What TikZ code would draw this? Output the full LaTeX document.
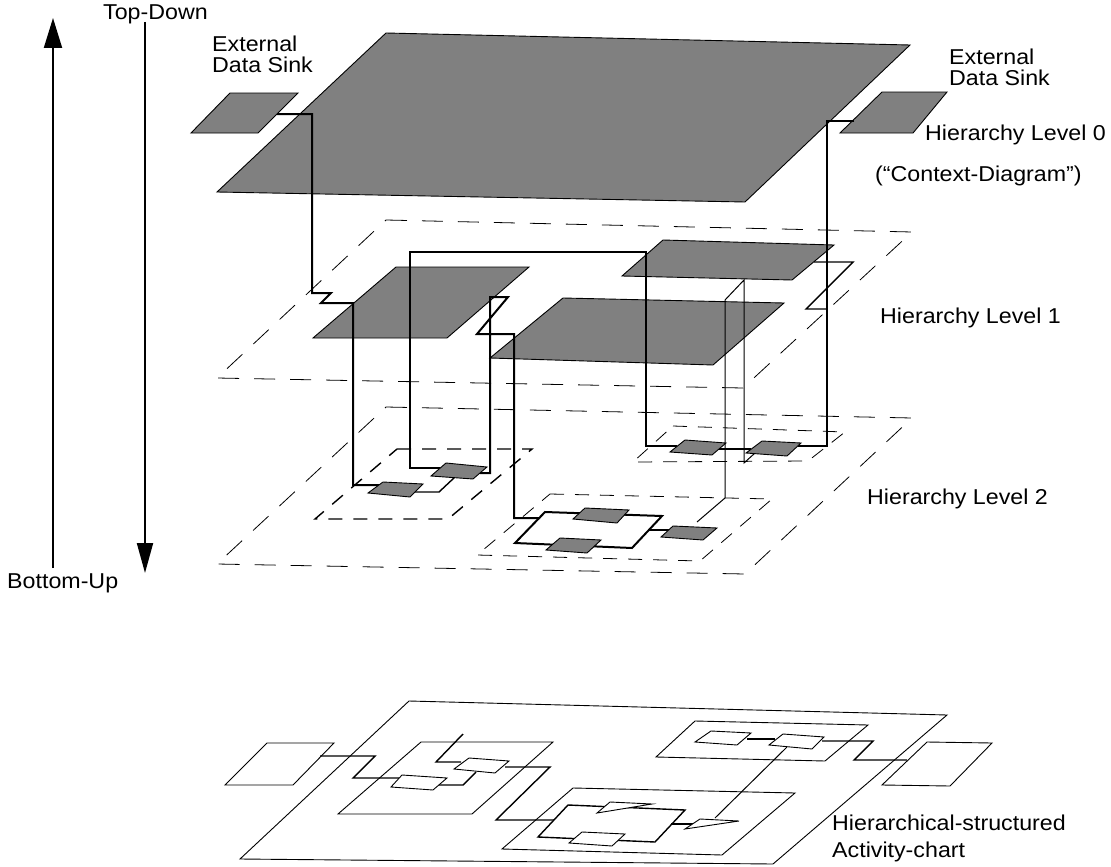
\documentclass[tikz,border=0pt]{standalone}
\usepackage{fontspec}
\setmainfont{Liberation Sans}[FakeStretch=1.08]
\usetikzlibrary{arrows.meta}
\definecolor{boxgray}{RGB}{128,128,128}
\begin{document}
\begin{tikzpicture}[x=1pt,y=-1pt,
  graybox/.style={draw=black,line width=0.9pt,fill=boxgray,line join=miter},
  wbox/.style={draw=black,line width=0.9pt,fill=white},
  thinplane/.style={draw=black,line width=0.9pt},
  dplane/.style={draw=black,line width=0.8pt,dash pattern=on 21pt off 15pt},
  dsub/.style={draw=black,line width=0.8pt,dash pattern=on 14pt off 11pt},
  conn/.style={draw=black,line width=2pt},
  midconn/.style={draw=black,line width=1.4pt},
  thinconn/.style={draw=black,line width=1pt},
  lbl/.style={font=\fontsize{21.5}{25}\selectfont,anchor=base west,inner sep=0pt},
  uparrow/.style={line width=2pt,-{Triangle[length=30pt,width=18pt]}},
  downarrow/.style={line width=2pt,-{Triangle[length=30pt,width=16pt]}}]
\useasboundingbox (0,0) rectangle (1111,867);

% ---------- Level 2 ----------
\draw[dplane] (386,407) -- (912,418) -- (745,574) -- (217,564) -- cycle;
\draw[dsub,line width=1.4pt] (397,449) -- (532,449) -- (448,519) -- (315,519) -- cycle;
\draw[dsub] (550,494) -- (772,499) -- (700,561) -- (477,555) -- cycle;
\draw[dsub] (673,426) -- (845,432) -- (808,461) -- (633,462) -- cycle;

% ---------- Level 1 ----------
\draw[dplane] (386,220) -- (912,232) -- (743,388) -- (217,378) -- cycle;
\draw[graybox] (396,267) -- (529,267) -- (447,338) -- (313,338) -- cycle;
\draw[graybox] (663,240) -- (834,245) -- (792,280) -- (622,276) -- cycle;
\draw[graybox] (563,298) -- (784,303) -- (713,365) -- (490,358) -- cycle;

% ---------- Level 0 ----------
\draw[graybox] (386,33) -- (910,45) -- (745,202) -- (217,192) -- cycle;
\draw[graybox] (230,93) -- (298,93) -- (258,133) -- (191,133) -- cycle;
\draw[graybox] (882,92) -- (947,92) -- (913,133) -- (840,133) -- cycle;

% ---------- connectors (on top) ----------
\draw[conn] (277,114) -- (312,114) -- (312,293) -- (331,293) -- (321,303) -- (353,303) -- (353,485) -- (379,485);
\draw[conn] (440,468) -- (410,468) -- (410,252) -- (646,252) -- (646,446) -- (677,446);
\draw[conn] (480,473) -- (490,473) -- (490,297) -- (508,297) -- (477,334) -- (514,334) -- (514,518) -- (540,518);
\draw[midconn] (415,492) -- (439,492) -- (455,477);
\draw[conn] (854,121) -- (827,121) -- (827,446) -- (798,446);
\draw[midconn] (814,262) -- (853,262) -- (806,309) -- (827,309);
\draw[conn] (545,512) -- (662,516) -- (632,548) -- (515,543) -- cycle;
\draw[conn] (648,530) -- (669,530);
\draw[conn] (719,449) -- (751,449);
\draw[thinconn] (697,522) -- (725,498) -- (725,300) -- (744,280) -- (744,463) -- (755,453);

% level 2 gray boxes
\draw[graybox] (383,482) -- (423,484) -- (410,497) -- (368,493) -- cycle;
\draw[graybox] (446,463) -- (487,467) -- (473,479) -- (431,476) -- cycle;
\draw[graybox] (585,508) -- (629,510) -- (617,523) -- (573,519) -- cycle;
\draw[graybox] (560,538) -- (601,540) -- (587,553) -- (546,550) -- cycle;
\draw[graybox] (673,526) -- (717,528) -- (703,540) -- (661,537) -- cycle;
\draw[graybox] (685,440) -- (726,443) -- (712,455) -- (670,452) -- cycle;
\draw[graybox] (762,441) -- (801,443) -- (787,456) -- (746,453) -- cycle;

% ---------- Activity chart ----------
\draw[thinplane] (409,701) -- (947,715) -- (773,864) -- (240,859) -- cycle;
\draw[thinplane] (267,743) -- (334,743) -- (293,785) -- (225,785) -- cycle;
\draw[thinplane] (421,742) -- (553,742) -- (472,814) -- (338,814) -- cycle;
\draw[thinplane] (573,788) -- (795,793) -- (722,855) -- (502,849) -- cycle;
\draw[thinplane] (695,721) -- (868,725) -- (825,761) -- (656,757) -- cycle;
\draw[thinplane] (927,742) -- (992,743) -- (950,786) -- (882,785) -- cycle;
\draw[midconn] (320,756) -- (375,756) -- (353,778) -- (399,778);
\draw[midconn] (438,785) -- (463,785) -- (476,772);
\draw[midconn] (461,762) -- (436,762) -- (463,734);
\draw[midconn] (505,767) -- (550,767) -- (496,820) -- (554,820);
\draw[midconn] (568,805) -- (685,810) -- (655,842) -- (538,837) -- cycle;
\draw[midconn] (671,824) -- (693,824);
\draw[thinconn] (715,818) -- (787,747);
\draw[midconn] (747,739) -- (775,739);
\draw[midconn] (822,741) -- (873,741) -- (854,760) -- (907,760);
\draw[wbox] (402,775) -- (447,778) -- (433,790) -- (391,787) -- cycle;
\draw[wbox] (469,758) -- (509,761) -- (495,773) -- (454,769) -- cycle;
\draw[wbox] (711,731) -- (751,733) -- (737,745) -- (695,742) -- cycle;
\draw[wbox] (783,734) -- (824,737) -- (812,749) -- (769,745) -- cycle;
\draw[wbox] (582,832) -- (625,834) -- (612,846) -- (569,843) -- cycle;
\draw[wbox] (597,813) -- (610,802) -- (652,804) -- cycle;
\draw[wbox] (685,829) -- (700,819) -- (739,821) -- cycle;

% ---------- arrows ----------
\draw[uparrow] (53,568) -- (53,18);
\draw[downarrow] (145,22) -- (145,573);

% ---------- labels ----------
\node[lbl] (td) at (103,20) {Top-Down};
\node[lbl] (bu) at (7,588) {Bottom-Up};
\node[lbl] (e1) at (212,52) {External};
\node[lbl] (d1) at (212,73) {Data Sink};
\node[lbl] (e2) at (949,64) {External};
\node[lbl] (d2) at (949,85) {Data Sink};
\node[lbl] (h0) at (925,140) {Hierarchy Level 0};
\node[lbl] (cd) at (875,181) {(“Context-Diagram”)};
\node[lbl] (h1) at (880,323) {Hierarchy Level 1};
\node[lbl] (h2) at (867,504) {Hierarchy Level 2};
\node[lbl] (ha) at (832,830) {Hierarchical-structured};
\node[lbl] (ac) at (832,857) {Activity-chart};
\end{tikzpicture}
\end{document}
